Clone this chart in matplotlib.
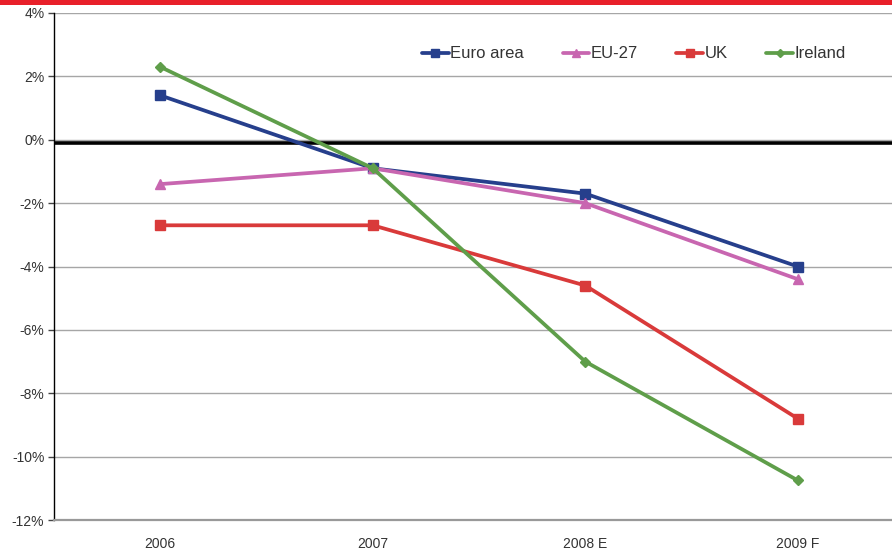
import matplotlib
matplotlib.use("Agg")
import matplotlib.pyplot as plt
from matplotlib.patches import Rectangle
from matplotlib.ticker import FuncFormatter

plt.rcParams['font.family'] = ['Liberation Sans', 'DejaVu Sans']

categories = ["2006", "2007", "2008 E", "2009 F"]
euro_area = [1.4, -0.9, -1.7, -4.0]
eu27 = [-1.4, -0.9, -2.0, -4.4]
uk = [-2.7, -2.7, -4.6, -8.8]
ireland = [2.3, -0.9, -7.0, -10.75]
y_ticks = [4, 2, 0, -2, -4, -6, -8, -10, -12]

series = [
    ("Euro area", euro_area, "#263f8c", "s", 7),
    ("EU-27", eu27, "#c866b0", "^", 7),
    ("UK", uk, "#d93a3a", "s", 7),
    ("Ireland", ireland, "#5f9e4a", "D", 5),
]

W, H = 892, 549
fig = plt.figure(figsize=(W / 100, H / 100), dpi=100)
ax = fig.add_axes([54 / W, (H - 520) / H, 850 / W, 507 / H])

x = list(range(len(categories)))
for name, vals, col, mk, ms in series:
    ax.plot(x, vals, color=col, lw=2.7, marker=mk, markersize=ms,
            markeredgecolor=col, label=name, solid_capstyle='round', zorder=3)

ax.set_xlim(-0.5, 3.5)
ax.set_ylim(-12, 4)
ax.set_yticks(y_ticks)
ax.yaxis.set_major_formatter(FuncFormatter(lambda v, p: f"{int(v)}%"))
ax.set_xticks(x)
ax.set_xticklabels(categories)
ax.grid(axis='y', color='#a6a6a6', lw=1.0, zorder=1)
ax.tick_params(axis='y', length=4, width=1, color='#444444', labelsize=10,
               labelcolor='#333333', pad=3)
ax.tick_params(axis='x', length=0, labelsize=10, labelcolor='#333333', pad=12)
for s in ['top', 'right']:
    ax.spines[s].set_visible(False)
ax.spines['left'].set_color('black')
ax.spines['left'].set_linewidth(1.0)
ax.spines['bottom'].set_color('#999999')
ax.spines['bottom'].set_linewidth(1.6)

ax.axhline(-0.11, color='black', lw=2.6, zorder=2)

leg = fig.legend(loc='center', bbox_to_anchor=(634 / W, (H - 54) / H), ncol=4,
                 frameon=False, fontsize=12, handlelength=1.6, handletextpad=0.1,
                 columnspacing=2.3, markerscale=0.75)
for t in leg.get_texts():
    t.set_color('#333333')

fig.add_artist(Rectangle((0, 1 - 5 / H), 1, 5 / H, transform=fig.transFigure,
                         color='#e8202a', lw=0))

fig.savefig("out.png", dpi=100)
